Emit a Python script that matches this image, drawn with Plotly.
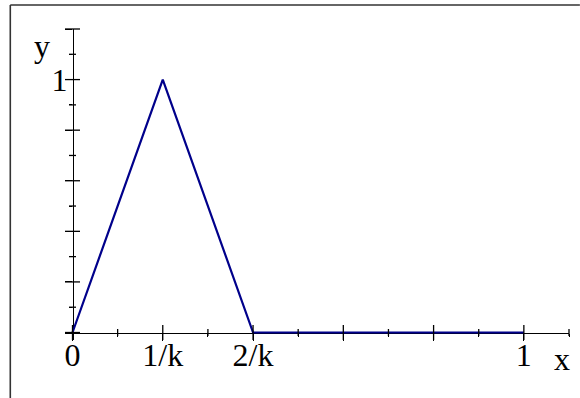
import plotly.graph_objects as go

# Piecewise-linear hat function on [0, 1] (k = 5)
x_vals = [0.0, 0.2, 0.4, 1.0]
y_vals = [0.0, 1.0, 0.0, 0.0]

# Tick positions and labels
x_major = [0.0, 0.2, 0.4, 0.6, 0.8, 1.0]
x_major_text = ["0", "1/k", "2/k", "", "", "1"]
x_minor = [0.1, 0.3, 0.5, 0.7, 0.9, 1.1]
y_major = [0.0, 0.2, 0.4, 0.6, 0.8, 1.0, 1.2]
y_major_text = ["", "", "", "", "", "1", ""]
y_minor = [0.1, 0.3, 0.5, 0.7, 0.9, 1.1]

W, H = 580, 398
FONT = "Liberation Serif"
FS = 32

# Plot area geometry (pixels)
px_x = 451.3          # pixels per x unit
px_y = 253.0          # pixels per y unit
x0_px, y0_px = 72.7, 332.3
over = 7.5            # axis overhang past the origin

x_range = [-over / px_x, 1.1]
y_range = [-over / px_y, 1.2]
m_l = x0_px - over
m_r = W - (x0_px + 1.1 * px_x)
m_t = y0_px - 1.2 * px_y
m_b = H - (y0_px + over)
plot_w = W - m_l - m_r
plot_h = H - m_t - m_b


def paper_x(px):
    return (px - m_l) / plot_w


def paper_y(py):
    return 1 - (py - m_t) / plot_h


x_axis_pos = (0 - y_range[0]) / (y_range[1] - y_range[0])
y_axis_pos = (0 - x_range[0]) / (x_range[1] - x_range[0])

fig = go.Figure()
fig.add_trace(go.Scatter(
    x=x_vals, y=y_vals, mode="lines",
    line=dict(color="#00008B", width=2.2),
    showlegend=False, hoverinfo="skip",
))


# tick marks that cross the axis lines (centred line markers)
def cross_ticks(xs, ys, symbol, length):
    return go.Scatter(
        x=xs, y=ys, mode="markers", cliponaxis=False,
        marker=dict(symbol=symbol, size=length / 1.4,
                    line=dict(color="black", width=1.3)),
        showlegend=False, hoverinfo="skip",
    )


fig.add_trace(cross_ticks(x_major, [0] * len(x_major), "line-ns", 15))
fig.add_trace(cross_ticks(x_minor, [0] * len(x_minor), "line-ns", 7))
fig.add_trace(cross_ticks([0] * len(y_major), y_major, "line-ew", 15))
fig.add_trace(cross_ticks([0] * len(y_minor), y_minor, "line-ew", 7))

common = dict(showgrid=False, zeroline=False, linecolor="black",
              tickcolor="black", tickwidth=1.3, anchor="free",
              layer="below traces")


def minor_ticks(vals):
    return dict(tickmode="array", tickvals=vals, ticks="outside", ticklen=3.5,
                tickwidth=1.3, tickcolor="black", showgrid=False)


fig.update_layout(
    width=W, height=H,
    margin=dict(l=m_l, r=m_r, t=m_t, b=m_b, pad=0),
    paper_bgcolor="white", plot_bgcolor="white",
    font=dict(family=FONT, size=FS, color="black"),
    xaxis=dict(
        range=x_range, position=x_axis_pos, showline=True, linewidth=1.3,
        ticks="outside", ticklen=7.5, tickmode="array",
        tickvals=x_major, ticktext=x_major_text,
        tickfont=dict(family=FONT, size=FS, color="black"),
        ticklabelstandoff=-14,
        minor=minor_ticks(x_minor),
        **common,
    ),
    yaxis=dict(
        range=y_range, position=y_axis_pos, showline=True, linewidth=1.3,
        ticks="outside", ticklen=7.5, tickmode="array",
        tickvals=y_major, ticktext=y_major_text,
        tickfont=dict(family=FONT, size=FS, color="black"),
        ticklabelstandoff=-9,
        minor=minor_ticks(y_minor),
        **common,
    ),
)

# axis names
fig.add_annotation(text="y", x=paper_x(42.5), y=paper_y(45.5),
                   xref="paper", yref="paper", showarrow=False,
                   font=dict(family=FONT, size=FS),
                   xanchor="center", yanchor="middle")
fig.add_annotation(text="x", x=paper_x(562.5), y=paper_y(359),
                   xref="paper", yref="paper", showarrow=False,
                   font=dict(family=FONT, size=FS),
                   xanchor="center", yanchor="middle")

# frame edges (top and left)
left_px, top_px = 10.5, 4.7
fig.add_shape(type="line", xref="paper", yref="paper",
              x0=paper_x(left_px), x1=paper_x(W), y0=paper_y(top_px),
              y1=paper_y(top_px), line=dict(color="#333333", width=1.6))
fig.add_shape(type="line", xref="paper", yref="paper",
              x0=paper_x(left_px), x1=paper_x(left_px), y0=paper_y(top_px),
              y1=paper_y(H), line=dict(color="#333333", width=1.6))

fig.write_html("out.html")
